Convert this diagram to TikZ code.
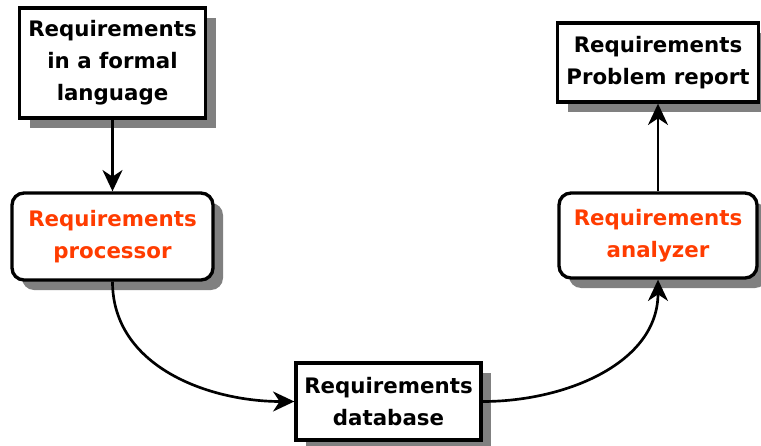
\documentclass[tikz,border=0pt]{standalone}
\usepackage{fontspec}
\setmainfont{DejaVu Sans}
\usetikzlibrary{arrows.meta,shadows}
\definecolor{reqred}{RGB}{255,60,0}
\definecolor{shadowgray}{RGB}{128,128,128}
\begin{document}
\begin{tikzpicture}[x=0.75pt,y=0.75pt,yscale=-1,xscale=1,
        box/.style={draw, line width=2.5pt, fill=white, align=center, font=\bfseries\fontsize{16}{24}\selectfont,
            drop shadow={shadow xshift=7.5pt, shadow yshift=-7.5pt, fill=shadowgray, opacity=1}},
        toolbox/.style={box, rounded corners=9pt, text=reqred},
        flow/.style={line width=2pt, -{Stealth[length=16pt,width=15pt,inset=5pt]}}]
            \useasboundingbox (0, 0) rectangle (761, 446);
            %Boxes
            \node[box, minimum width=139.5pt, minimum height=82.5pt] (formal) at (112.5, 63) {Requirements\\in a formal\\language};
            \node[toolbox, minimum width=150.75pt, minimum height=65.25pt] (proc) at (112.5, 236.5) {Requirements\\processor};
            \node[box, minimum width=138.75pt, minimum height=57.75pt] (db) at (388.5, 401.5) {Requirements\\database};
            \node[toolbox, minimum width=148.5pt, minimum height=63.75pt] (anal) at (658, 235.5) {Requirements\\analyzer};
            \node[box, minimum width=150.75pt, minimum height=59.25pt] (report) at (658, 62.5) {Requirements\\Problem report};
            %
            %Arrows
            \draw[flow] (formal) -- (proc);
            \draw[flow] (proc.south) to[out=90, in=180] (db.west);
            \draw[flow] (db.east) to[out=0, in=90] (anal.south);
            \draw[flow] (anal) -- (report);
\end{tikzpicture}
\end{document}
